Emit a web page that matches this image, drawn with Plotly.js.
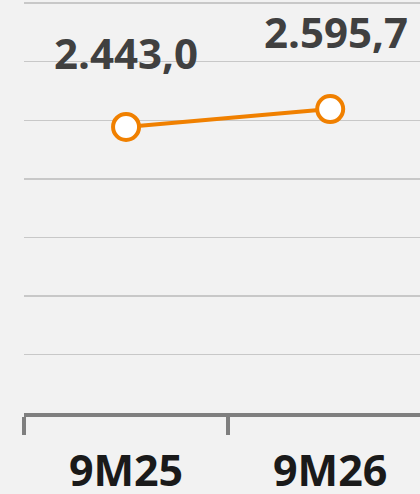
<!DOCTYPE html>
<html>
<head>
<meta charset="utf-8">
<script src="https://cdn.plot.ly/plotly-3.0.1.min.js"></script>
<style>html,body{margin:0;padding:0;background:#f2f2f2;}#chart{width:420px;height:494px;}</style>
</head>
<body>
<div id="chart"></div>
<script>
const categories = ["9M25", "9M26"];
const values = [2443.0, 2595.7];
const valueLabels = ["2.443,0", "2.595,7"];
const labelShiftX = [0, 6];
const labelShiftY = [74, 78];

const trace = {
  x: categories,
  y: values,
  type: "scatter",
  mode: "lines+markers",
  line: {color: "#F08000", width: 4},
  marker: {symbol: "circle", size: 26, color: "#ffffff", line: {color: "#F08000", width: 4}},
  hoverinfo: "skip"
};

const annotations = categories.map((c, i) => ({
  x: c, y: values[i], xref: "x", yref: "y",
  text: valueLabels[i], showarrow: false,
  xanchor: "center", yanchor: "middle",
  xshift: labelShiftX[i], yshift: labelShiftY[i],
  font: {family: "Open Sans", size: 42, color: "#404040", weight: 700}
}));

const layout = {
  width: 420, height: 494,
  margin: {l: 24, r: 0, t: 2, b: 81},
  paper_bgcolor: "#f2f2f2",
  plot_bgcolor: "#f2f2f2",
  showlegend: false,
  xaxis: {
    type: "category",
    range: [-0.5, 1.44],
    showgrid: false, zeroline: false,
    showline: true, linecolor: "#7f7f7f", linewidth: 4,
    ticks: "outside", tickson: "boundaries", ticklen: 18, tickwidth: 4, tickcolor: "#7f7f7f",
    ticklabelstandoff: 17,
    tickfont: {family: "Open Sans", size: 43, color: "#1a1a1a", weight: 700},
    fixedrange: true
  },
  yaxis: {
    range: [0, 3510],
    dtick: 500, tick0: 0,
    showgrid: true, gridcolor: "#c8c8c8", gridwidth: 1.5,
    zeroline: false, showline: false, showticklabels: false, ticks: "",
    fixedrange: true
  },
  annotations: annotations
};

Plotly.newPlot("chart", [trace], layout, {displayModeBar: false, staticPlot: true});
</script>
</body>
</html>
